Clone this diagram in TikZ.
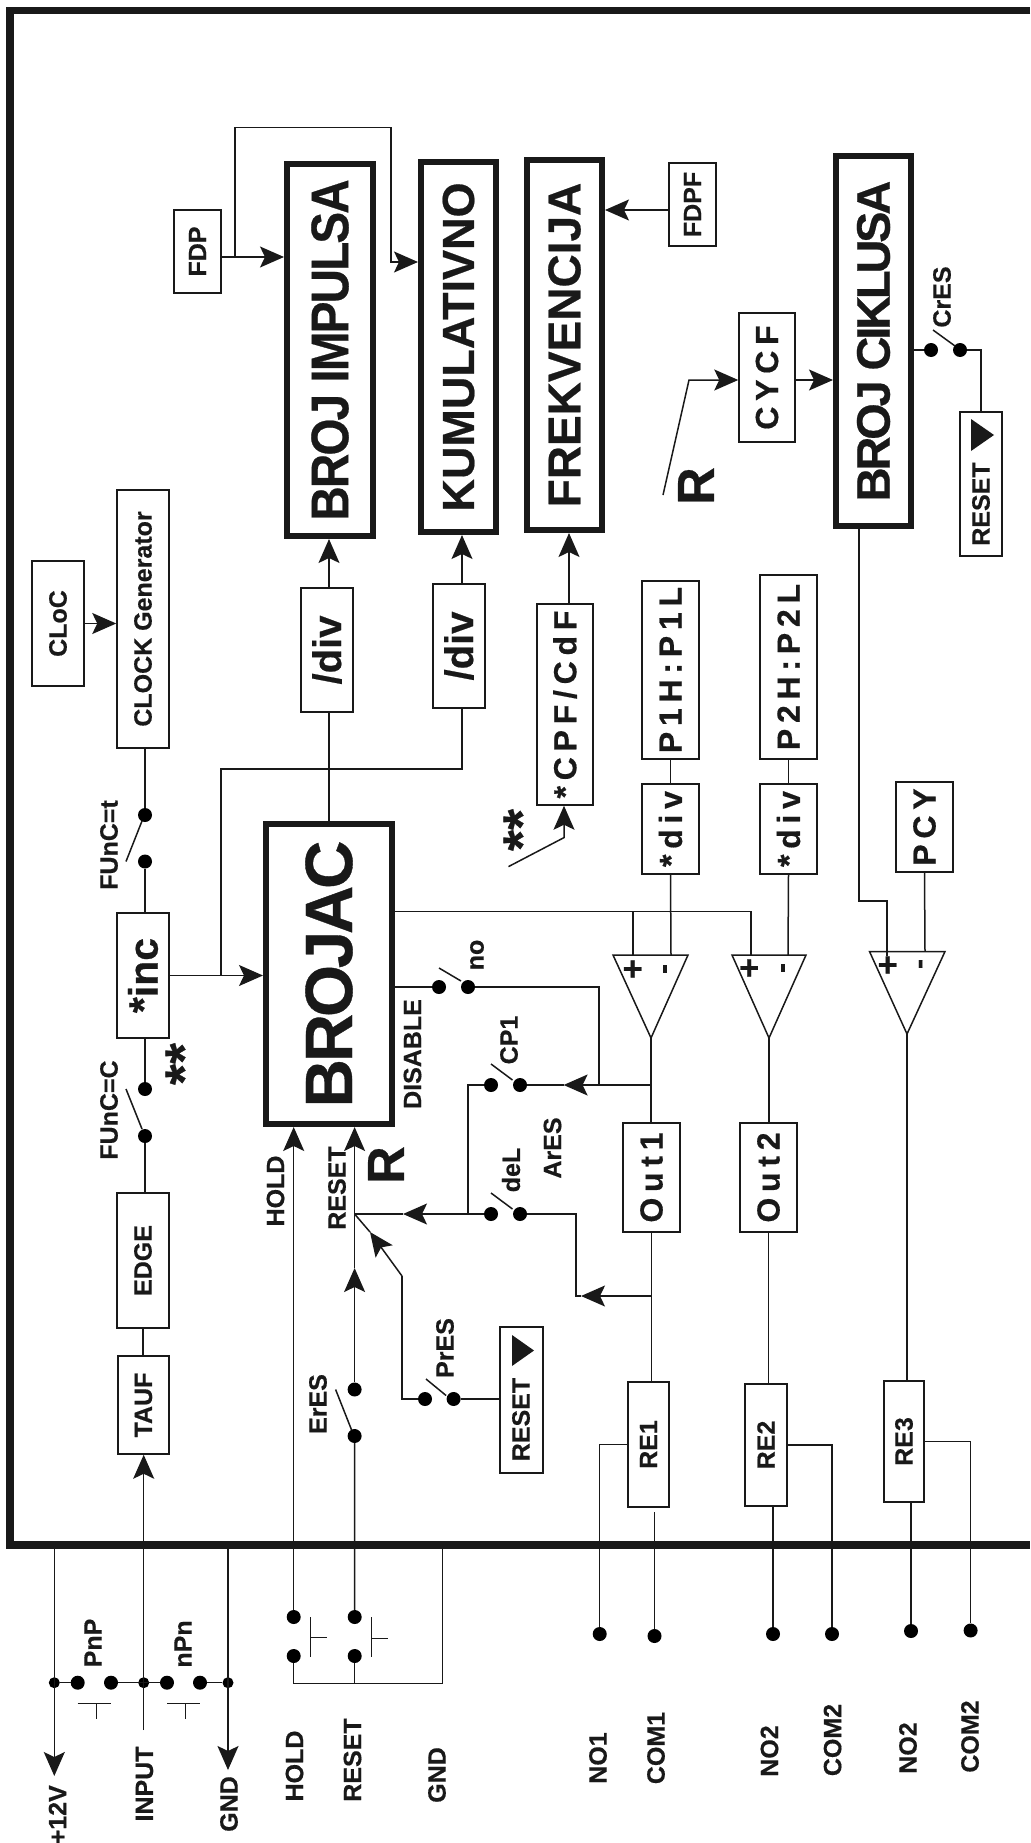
\documentclass[tikz,border=0pt]{standalone}
\usepackage{fontspec}
\setmainfont{Liberation Sans}
\usetikzlibrary{arrows.meta,calc}
\newcommand{\sz}[2]{\bfseries\fontsize{#1}{#1}\selectfont\addfontfeature{LetterSpace=#2,FakeBold=0.5}}
\tikzset{
  wire/.style={line width=1.5pt},
  arr/.style={wire,-{Stealth[length=24pt,width=21pt,inset=5pt]}},
  boxa/.style={draw,line width=1.5pt,rotate=90,inner sep=0pt,font=\sz{25}{0}},
  boxb/.style={boxa,font=\sz{32}{18}},
  heavy/.style={draw,line width=6pt,rotate=90,inner sep=0pt},
  txt/.style={rotate=90,inner sep=0pt,font=\sz{25}{0}},
  swdot/.style={circle,fill=black,inner sep=0pt,minimum size=14pt},
  joint/.style={circle,fill=black,inner sep=0pt,minimum size=11pt},
}
\begin{document}
\begin{tikzpicture}[x=1pt,y=-1pt,black!90]
  \useasboundingbox (0,0) rectangle (1030,1843);
  \draw[line width=7.5pt] (1030,10.5) -- (10,10.5) -- (10,1545) -- (1030,1545);

  \node[heavy,minimum width=372pt,minimum height=86pt,font=\sz{53}{-4}] (brojimp) at (330,350) {\scalebox{.9}[1]{BROJ IMPULSA}};
  \node[heavy,minimum width=370pt,minimum height=75pt,font=\sz{45}{0}] (kumul) at (458.5,347) {KUMULATIVNO};
  \node[heavy,minimum width=370pt,minimum height=75pt,font=\sz{46}{0}] (frekv) at (564.5,345) {FREKVENCIJA};
  \node[heavy,minimum width=370pt,minimum height=75pt,font=\sz{47}{-6.8}] (brojcik) at (873.5,341) {BROJ CIKLUSA};
  \node[heavy,minimum width=300pt,minimum height=126pt,font=\sz{67}{-4.8}] (brojac) at (329,974) {BROJAC};

  \node[boxa,minimum width=83pt,minimum height=47pt] (fdp) at (197.5,251.5) {FDP};
  \node[boxa,minimum width=83pt,minimum height=47pt] (fdpf) at (692.5,204.5) {FDPF};
  \node[boxa,minimum width=125pt,minimum height=52pt] (cloc) at (58,623.5) {CLoC};
  \node[boxa,minimum width=258pt,minimum height=52pt] (clockgen) at (143,619) {CLOCK Generator};
  \node[boxa,minimum width=124pt,minimum height=52pt,font=\sz{40}{0}] (diva) at (327,650) {/div};
  \node[boxa,minimum width=124pt,minimum height=52pt,font=\sz{40}{0}] (divb) at (459,646) {/div};
  \node[boxa,minimum width=125pt,minimum height=52pt,font=\sz{41}{0}] (inc) at (143,975.5) {*inc};
  \node[boxa,minimum width=135pt,minimum height=52pt] (edge) at (143,1260.5) {EDGE};
  \node[boxa,minimum width=98pt,minimum height=51pt] (tauf) at (143.5,1405) {TAUF};
  \node[boxb,minimum width=129pt,minimum height=56pt] (cycf) at (767,377.5) {CYCF};
  \node[boxb,minimum width=201pt,minimum height=56pt] (cpf) at (565,704.5) {*CPF/CdF};
  \node[boxb,minimum width=178pt,minimum height=57pt] (phla) at (670.5,670) {P1H:P1L};
  \node[boxb,minimum width=184pt,minimum height=57pt] (phlb) at (788.5,667) {P2H:P2L};
  \node[boxb,minimum width=90pt,minimum height=57pt] (stardiva) at (670.5,829) {*div};
  \node[boxb,minimum width=90pt,minimum height=57pt] (stardivb) at (788.5,829) {*div};
  \node[boxb,minimum width=90pt,minimum height=57pt] (pcy) at (924.5,827) {PCY};
  \node[boxb,minimum width=109pt,minimum height=57pt] (outa) at (651.5,1177.5) {Out1};
  \node[boxb,minimum width=109pt,minimum height=57pt] (outb) at (768.5,1177.5) {Out2};
  \node[boxa,minimum width=125pt,minimum height=41pt] (rea) at (648.5,1444.5) {RE1};
  \node[boxa,minimum width=122pt,minimum height=42pt] (reb) at (766,1445) {RE2};
  \node[boxa,minimum width=121pt,minimum height=40pt] (rec) at (904,1441.5) {RE3};
  \node[boxa,minimum width=144pt,minimum height=42pt] (resetc) at (981,484) {};
  \node[boxa,minimum width=146pt,minimum height=43pt] (resetp) at (521.5,1400) {};
  \fill (971,419) -- (971,451) -- (994,435) -- cycle;
  \fill (512,1335) -- (512,1366) -- (534,1350.5) -- cycle;

  \foreach \nm/\px/\py in {swta/145/815,swtb/145/861.5,swca/145/1089,swcb/145/1136,swna/439/987,swnb/468/987,
      swpa/491/1085,swpb/520/1085,swda/491/1214,swdb/520/1214,swea/354.6/1389.5,sweb/354.6/1436,
      swsa/425/1399,swsb/453.6/1399,swra/931/350,swrb/960/350,
      holda/293.7/1617,holdb/293.7/1656,rsta/354.7/1617,rstb/354.7/1656,
      pnpa/77.7/1682.7,pnpb/111/1682.7,npna/167/1682.7,npnb/200/1682.7,
      noa/599.7/1634,coma/654.5/1636,nob/773/1634,comb/832/1634,noc/911/1631,comc/970.6/1630.5}
    \node[swdot] (\nm) at (\px,\py) {};
  \foreach \nm/\px in {jvcc/54.3,jinp/143.7,jgnd/228}
    \node[joint] (\nm) at (\px,1682.7) {};

  \foreach \nm/\px/\py in {fdpjoin/235/257,fdptop/235/127.5,kumin/391/262,divbx/462/769,incjoin/221/975,
      inputend/143.7/1730,rstmid/354.6/1268,rstjoin/354.6/1214,delmid/403/1214,rsw/468/1214,
      cpmid/563.6/1085,outjoin/651/1085,nobend/599/987,delbend/576/1296,delmidb/581/1296,outjoinb/651/1296,
      cmpline/751/911.6,cmpap/633/955,cmpan/671/955,cmpbp/751/955,cmpbn/788/955,cmpcp/887/956,cmpcn/925/951.5,
      cmpaout/651/1038,cmpbout/769/1038,cmpcout/907/1034,cycbend/859/901,cpfout/569/604,cpfin/564/837.6,
      cpftail/508.5/866.6,fdpfout/669/210,cyctail/663/495,cycin/689/380,prbend/402/1276,pmid/370/1232,
      busa/293/1683.7,busb/442.7/1683.7,gndtop/442.7/1549,vcctop/54.3/1549,vccend/54.3/1776,gndt/228/1549,gndend/228/1770}
    \coordinate (\nm) at (\px,\py);

  \draw[arr] (fdp.south |- fdpjoin) -- (brojimp.north |- fdpjoin);
  \draw[arr] (fdpjoin) -- (fdptop) -| (kumin) -- (kumin -| kumul.north);
  \draw[arr] (cloc.south) -- (cloc.south -| clockgen.north);
  \draw[wire] (brojac.east) -- (brojac.east |- diva.west);
  \draw[arr] (brojac.east |- diva.east) -- (brojac.east |- brojimp.west);
  \draw[wire] (divbx |- divb.west) -- (divbx) -- (divbx -| incjoin) -- (incjoin);
  \draw[arr] (divbx |- divb.east) -- (divbx |- kumul.west);
  \draw[arr] (inc.south) -- (inc.south -| brojac.north);
  \draw[arr] (fdpfout) -- (fdpfout -| frekv.south);
  \draw[arr] (cpfout) -- (cpfout |- frekv.west);
  \draw[arr] (cpftail) -- (cpfin) -- (cpfin |- cpf.west);
  \draw[arr] (cyctail) -- (cycin) -- (cycin -| cycf.north);
  \draw[arr] (cycin -| cycf.south) -- (cycin -| brojcik.north);
  \draw[wire] (brojcik.south |- swra) -- (swra);
  \draw[wire] (swrb) -| (resetc.east);

  \draw[wire] (swta) -- (swta |- clockgen.west);
  \draw[wire] (swtb) -- (swtb |- inc.east);
  \draw[wire] (swca) -- (swca |- inc.west);
  \draw[wire] (swcb) -- (swcb |- edge.east);
  \draw[wire] (edge.west) -- (edge.west |- tauf.east);
  \draw[arr] (inputend) -- (inputend |- tauf.west);

  \draw[arr] (holda) -- (holda |- brojac.west);
  \draw[wire] (rsta) -- (sweb);
  \draw[arr] (swea) -- (rstmid);
  \draw[arr] (rstmid) -- (rstmid |- brojac.west);
  \draw[wire] (swda) -- (rsw) -- (rsw |- swpa) -- (swpa);
  \draw[arr] (rsw) -- (delmid);
  \draw[wire] (delmid) -- (rstjoin);
  \draw[wire] (swna -| brojac.south) -- (swna);
  \draw[wire] (swnb) -- (nobend) -- (nobend |- cpmid);
  \draw[arr] (outjoin) -- (cpmid);
  \draw[wire] (cpmid) -- (swpb);
  \draw[wire] (swdb) -| (delbend) -- (delmidb);
  \draw[arr] (outjoinb) -- (delmidb);
  \draw[wire] (swsb) -- (swsb -| resetp.north);
  \draw[wire] (swsa) -| (prbend);
  \draw[arr] (prbend) -- (pmid);
  \draw[wire] (pmid) -- (rstjoin);

  \draw[wire] (cmpap) -- (cmpap |- cmpline);
  \draw[wire] (brojac.south |- cmpline) -- (cmpline) -- (cmpbp);
  \draw[wire] (phla.west) -- (stardiva.east);
  \draw[wire] (phlb.west) -- (stardivb.east);
  \draw[wire] (stardiva.west) -- (cmpan);
  \draw[wire] (stardivb.west) -- (cmpbn);
  \draw[wire] (pcy.west) -- (cmpcn);
  \draw[wire] (cycbend |- brojcik.west) -- (cycbend) -| (cmpcp);
  \draw[wire] (613,955) -- (688,955) -- (cmpaout) -- cycle;
  \draw[wire] (732,955) -- (806,955) -- (cmpbout) -- cycle;
  \draw[wire] (869.5,951.5) -- (945,951.5) -- (cmpcout) -- cycle;
  \draw[wire] (cmpaout) -- (cmpaout |- outa.east);
  \draw[wire] (cmpbout) -- (cmpbout |- outb.east);
  \draw[wire] (outa.west) -- (outa.west |- rea.east);
  \draw[wire] (outb.west) -- (outb.west |- reb.east);
  \draw[wire] (cmpcout) -- (cmpcout |- rec.east);

  \draw[wire] (rea.north) -| (noa);
  \draw[wire,shorten >=4pt] (coma) -- (coma |- rea.west);
  \draw[wire] (reb.south) -| (comb);
  \draw[line width=2.6pt] (nob) -- (nob |- reb.west);
  \draw[wire] (rec.south) -| (comc);
  \draw[line width=1.8pt] (noc) -- (noc |- rec.west);

  \draw[arr] (vcctop) -- (vccend);
  \draw[arr,line width=1.8pt] (gndt) -- (gndend);
  \draw[wire] (jvcc) -- (pnpa);
  \draw[wire] (pnpb) -- (npna);
  \draw[wire] (npnb) -- (jgnd);
  \draw[wire] (holdb) -- (holdb |- busa);
  \draw[wire] (rstb) -- (rstb |- busa);
  \draw[wire] (busa) -- (busb) -- (gndtop);

  % switch blades
  \draw[wire] ($(swta)+(-3,6)$) -- ($(swtb)+(-19,0)$);
  \draw[wire] ($(swca)+(-19,0)$) -- ($(swcb)+(-3,-7)$);
  \draw[wire] ($(swna)+(0,-19)$) -- ($(swnb)+(-7,-6)$);
  \draw[wire] ($(swpa)+(0,-21)$) -- ($(swpb)+(-7.5,-5)$);
  \draw[wire] ($(swda)+(0,-21)$) -- ($(swdb)+(-7.5,-5)$);
  \draw[wire] ($(swea)+(-19,0)$) -- ($(sweb)+(-3,-6)$);
  \draw[wire] ($(swsa)+(1,-20)$) -- ($(swsb)+(-7.5,-3.5)$);
  \draw[wire] ($(swra)+(2,-20)$) -- ($(swrb)+(-5,-4)$);
  \draw[wire] ($(pnpa)+(0,21)$) -- ($(pnpb)+(0,21)$);
  \draw[wire] ($(pnpa)+(19,21)$) -- ($(pnpa)+(19,36)$);
  \draw[wire] ($(npna)+(0,21)$) -- ($(npnb)+(0,21)$);
  \draw[wire] ($(npna)+(18.5,21)$) -- ($(npna)+(18.5,36)$);
  \draw[wire] ($(holda)+(17,0)$) -- ($(holdb)+(17,1)$);
  \draw[wire] ($(holda)+(17,20.5)$) -- ($(holda)+(33,20.5)$);
  \draw[wire] ($(rsta)+(17,0)$) -- ($(rstb)+(17,1)$);
  \draw[wire] ($(rsta)+(17,21.5)$) -- ($(rsta)+(33,21.5)$);

  % texts
  \foreach \nm/\px/\py/\tx in {lfunct/109/845/FUnC=t,lfuncc/109/1110/FUnC=C,lno/477/955/no,ldis/412.5/1054/DISABLE,
      lcp/509/1040/CP1,ldel/511/1170/deL,lares/552.5/1148/ArES,lhold/275.5/1191/HOLD,lrst/337/1188/RESET,
      leres/318/1404/ErES,lpres/445/1348/PrES,lcres/942/297/CrES,lrsc/981/504/RESET,lrsp/521/1419.5/RESET,
      lpnp/93/1643/PnP,lnpn/183/1644/nPn,linp/144.5/1784/INPUT,lgnd/229/1804/GND,lholdb/294.5/1766/HOLD,
      lrstb/352.5/1760/RESET,lgndb/437/1775/GND,lnoa/598/1758/NO1,lcoma/656/1748/COM1,lnob/769.5/1751/NO2,
      lcomb/832.6/1740/COM2,lnoc/908/1748/NO2,lcomc/970/1736.5/COM2}
    \node[txt] (\nm) at (\px,\py) {\tx};
  \node[txt,anchor=east] (lvcc) at (57.5,1785) {+12V};
  \node[txt,font=\sz{52}{0}] (rbrojac) at (386,1165) {R};
  \node[txt,font=\sz{52}{0}] (rcyc) at (696,486) {R};
  \node[txt,font=\sz{54}{0}] (stara) at (184,1064) {**};
  \node[txt,font=\sz{54}{0}] (starb) at (522,830) {**};
  \foreach \nm/\px/\py/\tx in {pa/634/969/+,pb/750.5/968/+,pc/889/965/+}
    \node[txt,font=\sz{34}{0}] (\nm) at (\px,\py) {\tx};
  \foreach \nm/\px/\py/\tx in {ma/668/969/-,mb/786/968/-,mc/923.6/964/-}
    \node[txt,font=\sz{30}{0}] (\nm) at (\px,\py) {\tx};
\end{tikzpicture}
\end{document}
